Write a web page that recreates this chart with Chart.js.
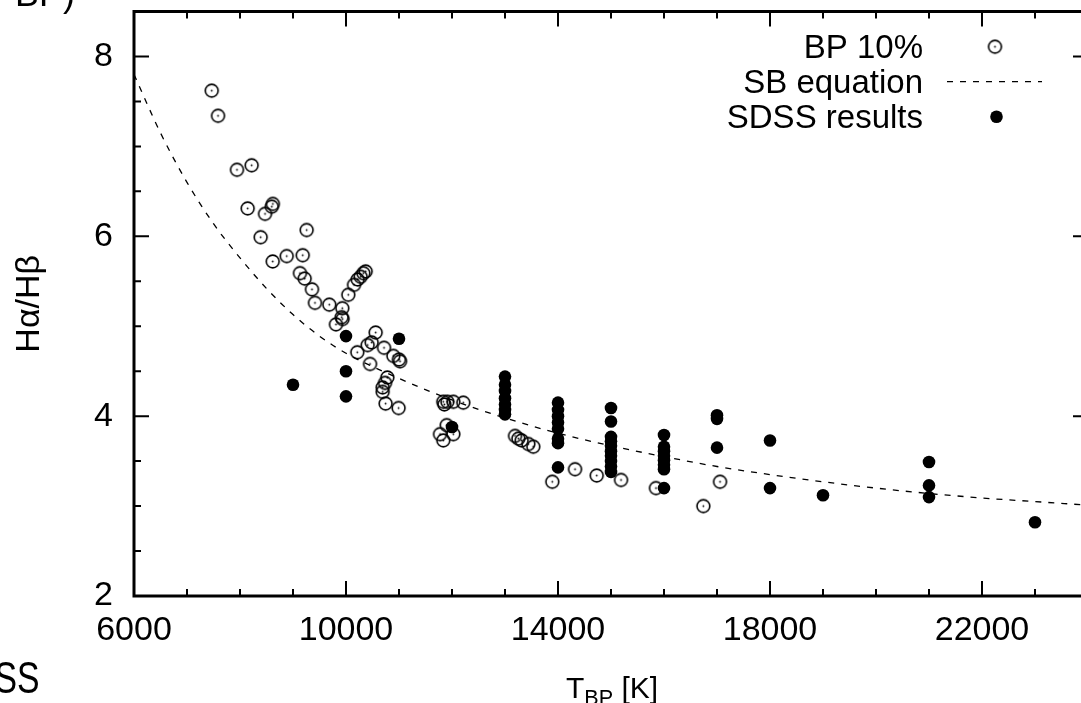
<!DOCTYPE html>
<html>
<head>
<meta charset="utf-8">
<script src="https://cdn.jsdelivr.net/npm/chart.js@4.4.1/dist/chart.umd.min.js"></script>
<style>
  body { margin: 0; background: #fff; overflow: hidden; }
  #wrap { position: relative; width: 1081px; height: 703px; overflow: hidden; background: #fff; }
  #chart { position: absolute; left: 0; top: 0; }
  .frag { position: absolute; font-family: "Liberation Sans", Arial, sans-serif; color: #000; line-height: 1; white-space: nowrap; }
  #xtitle { position: absolute; left: 462px; width: 300px; top: 673px; text-align: center;
    font-family: "Liberation Sans", Arial, sans-serif; font-size: 30px; line-height: 1; color: #000; }
  #xtitle sub { font-size: 0.72em; vertical-align: -0.32em; line-height: 0; }
</style>
</head>
<body>
<div id="wrap">
  <canvas id="chart" width="1100" height="703"></canvas>
  <div class="frag" style="left:15px; top:-24px; font-size:36px;">BP)</div>
  <div class="frag" style="right:1041px; top:655px; font-size:45px; transform:scaleX(0.75); transform-origin:right center;">SDSS</div>
  <div id="xtitle">T<sub>BP</sub> [K]</div>
</div>
<script>
// ===== Balmer decrement vs temperature =====

// axis ranges and tick labels
const X_MIN = 6000, X_MAX = 24000, X_MINOR = 1000;
const Y_MIN = 2, Y_MAX = 8.5, Y_MINOR = 0.5;
const xTickLabels = [6000, 10000, 14000, 18000, 22000];
const yTickLabels = [2, 4, 6, 8];

// BP 10% (open circles)
const bpTemp = [7466, 7585, 7943, 8220, 8145, 8472, 8600, 8620, 8390, 9258,
  8617, 8881, 9183, 9132, 9220, 9358, 9415, 9685, 9930, 9918,
  9936, 9811, 10043, 10151, 10220, 10277, 10327, 10371, 10559, 10484,
  10409, 10717, 10213, 10893, 11000, 11019, 10453, 10780, 10736, 10692,
  10692, 10747, 10992, 11836, 11855, 11912, 12025, 12213, 11900, 11774,
  11836, 12025, 13189, 13252, 13314, 13440, 13534, 13892, 14321, 14730,
  15189, 15849, 16742, 17057];
const bpRatio = [7.62, 7.34, 6.74, 6.79, 6.31, 6.25, 6.33, 6.36, 5.99, 6.07,
  5.72, 5.78, 5.79, 5.59, 5.53, 5.41, 5.26, 5.24, 5.20, 5.10,
  5.08, 5.02, 5.35, 5.46, 5.52, 5.55, 5.59, 5.61, 4.93, 4.82,
  4.79, 4.76, 4.71, 4.67, 4.63, 4.61, 4.58, 4.43, 4.37, 4.32,
  4.27, 4.14, 4.09, 4.16, 4.13, 4.16, 4.16, 4.15, 3.90, 3.80,
  3.73, 3.80, 3.78, 3.75, 3.73, 3.69, 3.66, 3.27, 3.41, 3.34,
  3.29, 3.20, 3.00, 3.27];

// SDSS results (filled circles)
const sdssTemp = [9000, 10000, 10000, 10000, 11000, 12000,
  13000, 13000, 13000, 13000, 13000, 13000, 13000,
  14000, 14000, 14000, 14000, 14000, 14000, 14000, 14000,
  15000, 15000, 15000, 15000, 15000, 15000, 15000, 15000, 15000, 15000,
  16000, 16000, 16000, 16000, 16000, 16000, 16000, 16000,
  17000, 17000, 17000, 18000, 18000, 19000, 21000, 21000, 21000, 23000];
const sdssRatio = [4.35, 4.89, 4.50, 4.22, 4.86, 3.88,
  4.44, 4.35, 4.28, 4.20, 4.13, 4.07, 4.02,
  4.15, 4.07, 4.00, 3.93, 3.86, 3.75, 3.70, 3.43,
  4.09, 3.94, 3.77, 3.72, 3.67, 3.61, 3.56, 3.50, 3.44, 3.38,
  3.79, 3.66, 3.61, 3.56, 3.51, 3.46, 3.41, 3.20,
  4.01, 3.97, 3.65, 3.73, 3.20, 3.12, 3.49, 3.23, 3.10, 2.82];

// SB equation (dashed curve)
const sbTemp = [6000, 6500, 7000, 7500, 8000, 8500, 9000, 9500, 10000, 11000, 12000,
  13000, 14000, 15000, 16000, 17000, 18000, 19000, 20000, 21000, 22000, 23000, 24000];
const sbRatio = [7.80, 7.15, 6.60, 6.14, 5.76, 5.42, 5.13, 4.89, 4.70, 4.42, 4.18,
  3.98, 3.81, 3.67, 3.55, 3.44, 3.35, 3.27, 3.20, 3.14, 3.09, 3.05, 3.01];

const toPoints = (xs, ys) => xs.map((x, i) => ({ x: x, y: ys[i] }));

// open circle with a dot in the middle (gnuplot style)
function makeRing() {
  const c = document.createElement("canvas");
  c.width = 17; c.height = 17;
  const g = c.getContext("2d");
  g.strokeStyle = "#000";
  g.lineWidth = 1.6;
  g.beginPath();
  g.arc(8.5, 8.5, 6.4, 0, Math.PI * 2);
  g.stroke();
  g.fillStyle = "#000";
  g.beginPath();
  g.arc(8.5, 8.5, 0.9, 0, Math.PI * 2);
  g.fill();
  return c;
}
const ring = makeRing();

const FONT = '"Liberation Sans", Arial, sans-serif';
Chart.defaults.font.family = FONT;
Chart.defaults.color = "#000";

// frame, inward ticks on all four sides, and the legend
const frameTicks = {
  id: "frameTicks",
  afterDatasetsDraw(chart) {
    const { ctx, chartArea: a, scales } = chart;
    const x = scales.x, y = scales.y;
    ctx.save();
    ctx.strokeStyle = "#000";
    ctx.lineWidth = 2;
    ctx.beginPath();
    for (let i = 0; X_MIN + i * X_MINOR <= X_MAX; i++) {
      const v = X_MIN + i * X_MINOR;
      const px = x.getPixelForValue(v);
      const len = xTickLabels.includes(v) ? 15 : 7;
      ctx.moveTo(px, a.bottom); ctx.lineTo(px, a.bottom - len);
      ctx.moveTo(px, a.top); ctx.lineTo(px, a.top + len);
    }
    for (let i = 0; Y_MIN + i * Y_MINOR <= Y_MAX + 1e-9; i++) {
      const v = Y_MIN + i * Y_MINOR;
      const py = y.getPixelForValue(v);
      const len = yTickLabels.includes(v) ? 15 : 7;
      ctx.moveTo(a.left, py); ctx.lineTo(a.left + len, py);
      ctx.moveTo(a.right, py); ctx.lineTo(a.right - len, py);
    }
    ctx.stroke();
    ctx.lineWidth = 3;
    ctx.strokeRect(a.left, a.top, a.right - a.left, a.bottom - a.top);

    // legend: text right aligned, sample on the right
    const textX = a.right - 165;
    const symX = a.right - 93;
    const rows = [
      { ds: chart.data.datasets[1], y: 46.7 },
      { ds: chart.data.datasets[2], y: 81.7 },
      { ds: chart.data.datasets[0], y: 116.7 }
    ];
    ctx.font = "33px " + FONT;
    ctx.fillStyle = "#000";
    ctx.textAlign = "right";
    ctx.textBaseline = "alphabetic";
    rows.forEach(r => {
      ctx.fillText(r.ds.label, textX, r.y + 11);
      if (r.ds.showLine) {
        ctx.lineWidth = 1.3;
        ctx.setLineDash([6, 7]);
        ctx.beginPath();
        ctx.moveTo(symX - 48, r.y);
        ctx.lineTo(symX + 47, r.y);
        ctx.stroke();
        ctx.setLineDash([]);
      } else if (r.ds.pointStyle === ring) {
        ctx.drawImage(ring, symX - ring.width / 2, r.y - ring.height / 2);
      } else {
        ctx.beginPath();
        ctx.arc(symX + 1.5, r.y, 6.3, 0, Math.PI * 2);
        ctx.fill();
      }
    });
    ctx.restore();
  }
};

new Chart(document.getElementById("chart"), {
  type: "scatter",
  data: {
    datasets: [
      {
        label: "SDSS results",
        data: toPoints(sdssTemp, sdssRatio),
        pointStyle: "circle",
        pointRadius: 6.3,
        pointBackgroundColor: "#000",
        pointBorderWidth: 0
      },
      {
        label: "BP 10%",
        data: toPoints(bpTemp, bpRatio),
        pointStyle: ring
      },
      {
        label: "SB equation",
        data: toPoints(sbTemp, sbRatio),
        showLine: true,
        pointRadius: 0,
        borderColor: "#000",
        borderWidth: 1.3,
        borderDash: [6, 7],
        cubicInterpolationMode: "monotone"
      }
    ]
  },
  options: {
    responsive: false,
    animation: false,
    devicePixelRatio: 1,
    layout: { padding: { left: 0, top: 11.5, right: 12, bottom: 0 } },
    scales: {
      x: {
        type: "linear",
        min: X_MIN,
        max: X_MAX,
        afterBuildTicks: s => { s.ticks = xTickLabels.map(v => ({ value: v })); },
        afterFit: s => { s.height = 107; s.paddingLeft = 0; s.paddingRight = 0; },
        ticks: { font: { size: 34 }, padding: 14, maxRotation: 0, autoSkip: false, callback: v => String(v) },
        grid: { display: false, drawTicks: false },
        border: { display: false }
      },
      y: {
        type: "linear",
        min: Y_MIN,
        max: Y_MAX,
        afterBuildTicks: s => { s.ticks = yTickLabels.map(v => ({ value: v })); },
        afterFit: s => { s.width = 134; s.paddingTop = 0; s.paddingBottom = 0; },
        ticks: { font: { size: 34 }, padding: 21, callback: v => String(v) },
        grid: { display: false, drawTicks: false },
        border: { display: false },
        title: { display: true, text: "Hα/Hβ", font: { size: 34 }, padding: { top: 9, bottom: 0 } }
      }
    },
    plugins: {
      legend: { display: false },
      tooltip: { enabled: false }
    }
  },
  plugins: [frameTicks]
});
</script>
</body>
</html>
